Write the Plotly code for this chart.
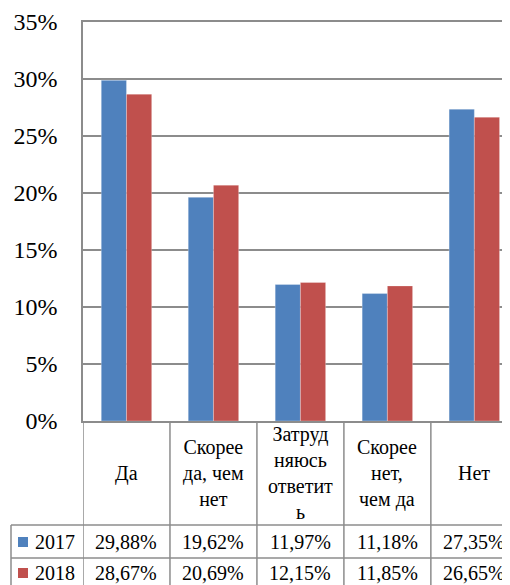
import plotly.graph_objects as go

categories = ["Да", "Скорее<br>да, чем<br>нет", "Затруд<br>няюсь<br>ответит<br>ь", "Скорее<br>нет,<br>чем да", "Нет"]
series_names = ["2017", "2018"]
values_2017 = [29.88, 19.62, 11.97, 11.18, 27.35]
values_2018 = [28.67, 20.69, 12.15, 11.85, 26.65]
colors = ["#4f81bd", "#c0504d"]
y_ticks = [0, 5, 10, 15, 20, 25, 30, 35]

OFF = 8  # page body margin
W, H = 510 - OFF, 585 - OFF
GRID = "#8c8c8c"
FONT = "Liberation Serif"

def py(px):
    return (H - (px - OFF)) / H

def pxx(px):
    return (px - OFF) / W

plot_bottom = py(421)
plot_top = py(22)
idx = list(range(len(categories)))

fig = go.Figure()
for name, vals, col in zip(series_names, [values_2017, values_2018], colors):
    fig.add_trace(go.Bar(x=idx, y=vals, name=name,
                         marker=dict(color=col, line=dict(width=0.8, color="rgba(255,255,255,0.35)")),
                         hoverinfo="skip"))

shapes = []
annotations = []
for i in range(len(categories) + 1):
    shapes.append(dict(type="line", xref="x", yref="paper", x0=i - 0.5, x1=i - 0.5,
                       y0=0, y1=plot_bottom, line=dict(color=GRID, width=1.5)))
shapes.append(dict(type="line", xref="paper", yref="paper", x0=pxx(11), x1=pxx(11),
                   y0=0, y1=py(525), line=dict(color=GRID, width=1.5)))
for yy in [525, 558]:
    shapes.append(dict(type="line", xref="paper", yref="paper", x0=pxx(11), x1=1,
                       y0=py(yy), y1=py(yy), line=dict(color=GRID, width=1.5)))

for i, c in enumerate(categories):
    annotations.append(dict(x=i, y=py(473), xref="x", yref="paper", text=c, showarrow=False,
                            xanchor="center", yanchor="middle", align="center",
                            font=dict(family=FONT, size=20, color="#000")))

row_y = [542, 573]
for r, (name, vals, col) in enumerate(zip(series_names, [values_2017, values_2018], colors)):
    yc = row_y[r]
    shapes.append(dict(type="rect", xref="paper", yref="paper", x0=pxx(18), x1=pxx(28),
                       y0=py(yc + 5), y1=py(yc - 5), fillcolor=col, line=dict(width=0)))
    annotations.append(dict(x=pxx(33), y=py(yc), xref="paper", yref="paper", text=name,
                            showarrow=False, xanchor="left", yanchor="middle",
                            font=dict(family=FONT, size=20, color="#000")))
    for i, v in enumerate(vals):
        annotations.append(dict(x=i, y=py(yc), xref="x", yref="paper",
                                text=f"{v:.2f}".replace(".", ",") + "%", showarrow=False,
                                xanchor="center", yanchor="middle",
                                font=dict(family=FONT, size=20, color="#000")))

fig.update_layout(
    template="none",
    width=W, height=H,
    margin=dict(l=0, r=0, t=0, b=0, pad=0, autoexpand=False),
    paper_bgcolor="white", plot_bgcolor="white",
    font=dict(family=FONT, color="#000"),
    showlegend=False,
    barmode="group", bargap=0.42, bargroupgap=0,
    shapes=shapes, annotations=annotations,
    xaxis=dict(domain=[pxx(83), 1], range=[-0.5, 4.41], showticklabels=False, ticks="",
               showgrid=False, zeroline=False, showline=True, linecolor=GRID, linewidth=1.5,
               mirror=True, fixedrange=True, automargin=False),
    yaxis=dict(domain=[plot_bottom, plot_top], range=[0, 35], tickvals=y_ticks,
               ticktext=[f"{t}%" for t in y_ticks], showgrid=True, gridcolor=GRID, gridwidth=1.5,
               zeroline=False, showline=True, linecolor=GRID, linewidth=1.5, ticks="",
               ticklabelstandoff=19, tickfont=dict(family=FONT, size=24, color="#000"),
               fixedrange=True, automargin=False),
)

fig.write_html("out.html")
